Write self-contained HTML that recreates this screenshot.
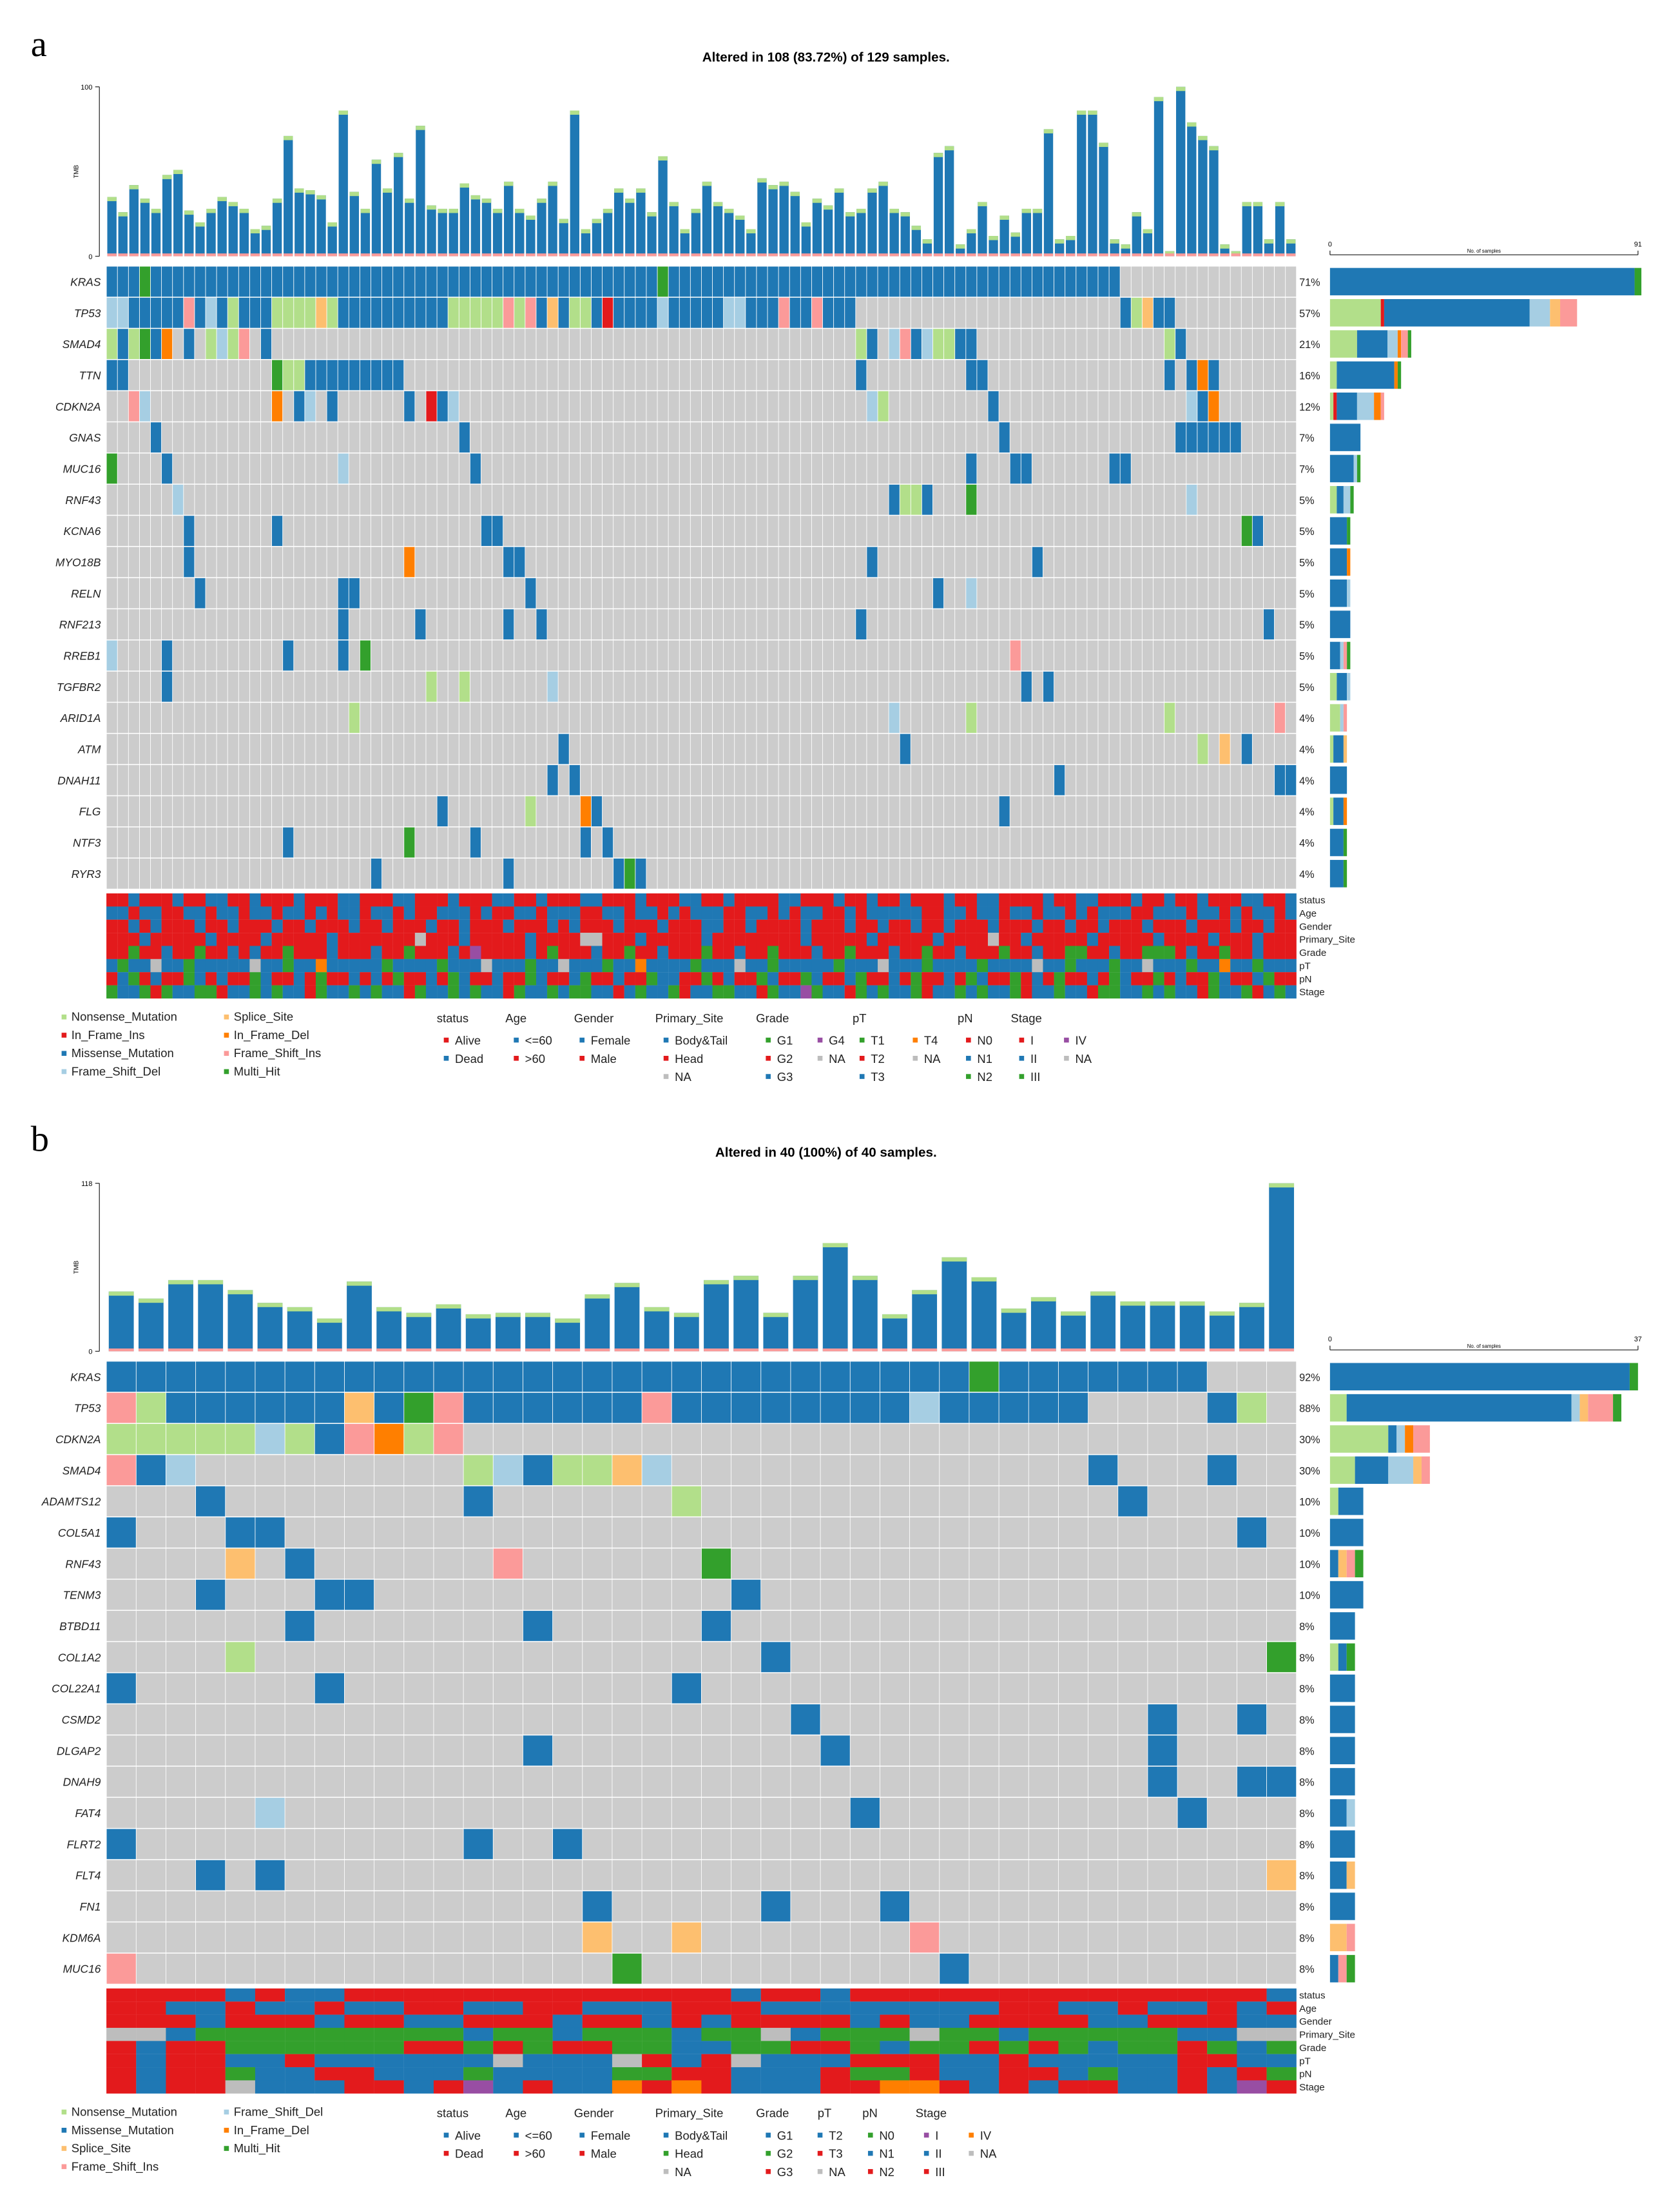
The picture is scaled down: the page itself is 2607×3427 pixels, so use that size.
<!DOCTYPE html>
<html><head><meta charset="utf-8"><style>
html,body{margin:0;padding:0;background:#fff;}
svg{display:block;font-family:"Liberation Sans",sans-serif;}
</style></head><body>
<svg id="fig" width="2607" height="3427" viewBox="0 0 1200 1577.5" preserveAspectRatio="none" xmlns="http://www.w3.org/2000/svg"></svg>
<script>
// ---------- DATA: panel a ----------
const genesA = ["KRAS","TP53","SMAD4","TTN","CDKN2A","GNAS","MUC16","RNF43","KCNA6","MYO18B","RELN","RNF213","RREB1","TGFBR2","ARID1A","ATM","DNAH11","FLG","NTF3","RYR3"];
const pctA = ["71%","57%","21%","16%","12%","7%","7%","5%","5%","5%","5%","5%","5%","5%","4%","4%","4%","4%","4%","4%"];
const mutA = [
"0-91M 3H 50H",
"0-1F 2-6M 7P 8M 9F 10M 11N 12-14M 15-18N 19S 20N 21-30M 31-35N 36P 37N 38P 39M 40S 41M 42-43N 44M 45I 46-49M 50F 51-55M 56-57F 58-60M 61P 62-63M 64P 65-67M 92M 93N 94S 95-96M",
"0N 1M 2N 3H 4M 5D 7M 9N 10F 11N 12P 14M 68N 69M 71F 72P 73M 74F 75-76N 77-78M 96N 97M",
"0-1M 15H 16-17N 18-22M 23-26M 68M 78-79M 96M 98M 99D 100M",
"2P 3F 15D 17M 18F 20M 27M 29I 30M 31F 69F 70N 80M 98F 99M 100D",
"4M 32M 81M 97-102M",
"0H 5M 21F 33M 78M 82-83M 91-92M",
"6F 71M 72-73N 74M 78H 98F",
"7M 15M 34-35M 103H 104M",
"7M 27D 36-37M 69M 84M",
"8M 21-22M 38M 75M 78F",
"21M 28M 36M 39M 68M 105M",
"0F 5M 16M 21M 23H 82P",
"5M 29N 32N 40F 83M 85M",
"22N 71F 78N 96N 106P",
"41M 72M 99N 101S 103M",
"40M 42M 86M 106-107M",
"30M 38N 43D 44M 81M",
"16M 27H 33M 43M 45M",
"24M 36M 46M 47H 48M"
];
const tmbA = [35,26,42,34,28,48,51,27,20,28, 35,32,28,16,18,34,71,40,39,36, 20,86,38,28,57,40,61,34,77,30, 28,28,43,36,34,28,44,28,24,34, 44,22,86,16,22,28,40,34,40,26, 59,32,16,28,44,32,28,24,16,46, 42,44,38,20,34,30,40,26,28,40, 44,28,26,18,10,61,65,7,16,32, 12,24,14,28,28,75,10,12,86,86, 67,10,7,26,16,94,3,100,79,71, 65,7,3,32,32,10,32,10];
const tmbMaxA = 100;
const sampleMaxA = 91;
const annNames = ["status","Age","Gender","Primary_Site","Grade","pT","pN","Stage"];
const annA = [
"rrbrrrbrrbbrrbrrrbrrrbbrrrbbrrrbrrrbbrrbrrrbbrrrbrrrbbrrbrrrrbbrrrbrrbrrbrrrbrrbbrrrrbrrbbrrrbrrbrrbrrrbbrrb",
"bbrbbrrbbrbbrbbrbbrbrbbrbbrbrrbbbrbrrbbrbbbrrbbrbbrbrbbbrrbbrbrbbrrbrbbbbbrrbbrbbrbbrbbrbrbbbrrbbbrbbrbrbbrb",
"rrbrbrrrbrrbrrrbrrbrrrbrrbrrrbrrbrrrbrrrbrbrrrbrrrbrrrbbrrbrrrrbrrrbrrbrrbrrbrrrbrrrbrrbrrbrrrbrrrbrrrbrrbrr",
"rrrbrrrrrbrrrrbrrrrrbrrrrrrrxrrrbrrrrrbrrrrxxrrrbrrrrrbrrrrrrrrbrrrrrbrrrrrbrrrrxrrbrrrrrbrrrrrbrrrrbrrrbrrr",
"rrgrrbrrgrrbrbrrgrrrbrrrbrrgrrrbrprrrrbrgrrrbrrgrrbrrrgrrbrrgrrrbrrgrrrbrrgrrbrrrgrrbrrggrrbrrgggrbrrgrrbrrr",
"bgbbxbbgbbbbbxbbgbbobbbbbgbbbbgbbbxbbbgbbxbbbgbbobbbbgbbbxbbgbbbbbgbbbxbbbgbbbbgbbbbxbbgbbbgbbxbbbgbbobbgbbb",
"rbgrbrrgbrbrrgbrrbrgrrbrbrgrrbrgbrrbrrgbrrbgrrbrrgbbrrgrbrrgbrrgbrrbgrrbrgrrbrgbrrgrbrgrrbrgbrrgrbrrgbrrbgrr",
"gbbgrgbbggrbbgbgbbrgbbgbgbbrgbbgbgbbrgbbgbggbbrbgbbgrbbggbbrgbbpgbbrgbgbbgrbbgbgbbgrbbgbbrggbbgbgbbrgbbgrbgb"
];
// ---------- DATA: panel b ----------
const genesB = ["KRAS","TP53","CDKN2A","SMAD4","ADAMTS12","COL5A1","RNF43","TENM3","BTBD11","COL1A2","COL22A1","CSMD2","DLGAP2","DNAH9","FAT4","FLRT2","FLT4","FN1","KDM6A","MUC16"];
const pctB = ["92%","88%","30%","30%","10%","10%","10%","10%","8%","8%","8%","8%","8%","8%","8%","8%","8%","8%","8%","8%"];
const mutB = [
"0-36M 29H",
"0P 1N 2-7M 8S 9M 10H 11P 12-17M 18P 19-26M 27F 28-32M 37M 38N",
"0-4N 5F 6N 7M 8P 9D 10N 11P",
"0P 1M 2F 12N 13F 14M 15-16N 17S 18F 33M 37M",
"3M 12M 19N 34M",
"0M 4-5M 38M",
"4S 6M 13P 20H",
"3M 7-8M 21M",
"6M 14M 20M",
"4N 22M 39H",
"0M 7M 19M",
"23M 35M 38M",
"14M 24M 35M",
"35M 38-39M",
"5F 25M 36M",
"0M 12M 15M",
"3M 5M 39S",
"16M 22M 26M",
"16S 19S 27P",
"0P 17H 28M"
];
const tmbB = [42,37,50,50,43,34,31,23,49,31, 27,33,26,27,27,23,40,48,31,27, 50,53,27,53,76,53,26,43,66,52, 30,38,28,42,35,35,35,28,34,118];
const tmbMaxB = 118;
const sampleMaxB = 37;
const annB = [
"rrrrbrbbrrrrrrrrrrrrrbrrbrrrrrrrrrrrrrrb",
"rrbbrbbrbbrrbbrrbbbrrrbbbbbbbbrrbbrbbrbr",
"rrrbrrrbrrbbrrrbrrbrbrrrrbrbbrrrrbbrrrbb",
"xxbgggggggggbggbgggbggxbgggxggbgggggbbxxg",
"rbrrggggggrrgrgrrggbbggrrgbggrgrgbggrgbg",
"rbrrbbrbbbbbbxbbbxrbrxbbbrrrbbrbbbbbrrbb",
"rbrrgbbrrbbbgbbbbggrrbbbrggrbbrrbgbbrbrg",
"rbrrxbbbrrbrpbrbbororbbbrroorbrbrrbbrbpr"
];
// ---------- RENDER ----------
const NS="http://www.w3.org/2000/svg";
const svg=document.getElementById('fig');
const MUTC={N:'#b2df8a',M:'#1f78b4',S:'#fdbf6f',I:'#e31a1c',D:'#ff7f00',F:'#a6cee3',P:'#fb9a99',H:'#33a02c'};
const ORDER=['N','I','M','F','S','D','P','H'];
const ANNC={r:'#e31a1c',b:'#1f78b4',g:'#33a02c',x:'#bdbdbd',p:'#984ea3',o:'#ff7f00'};
function el(tag,attrs,parent){const e=document.createElementNS(NS,tag);for(const k in attrs)e.setAttribute(k,attrs[k]);(parent||svg).appendChild(e);return e;}
function txt(s,x,y,size,anchor,extra,parent){const t=el('text',Object.assign({x:x,y:y,'font-size':size,'text-anchor':anchor||'start'},extra||{}),parent);t.textContent=s;return t;}
function parseMut(str,n){const row=new Array(n).fill(null);str.split(' ').forEach(tok=>{if(!tok)return;const ty=tok.slice(-1);const r=tok.slice(0,-1).split('-');const a=+r[0],b=r.length>1?+r[1]:a;for(let i=a;i<=b&&i<n;i++)row[i]=ty;});return row;}

function panel(o){
  const g=el('g',{});
  
  
  const lab=txt(o.letter,22,o.letterY,26,'start',{'font-family':'Liberation Serif, serif'},g);
  
  
  const tt=txt(o.title,590,o.top+30,9.5,'middle',{'font-weight':'bold'},g);
  
  
  const n=o.n, X0=76, X1=926, cw=(X1-X0)/n;
  const tmbY0=o.tmbTop, tmbY1=o.tmbBot;
  const ys=v=>tmbY1-(v/o.tmbMax)*(tmbY1-tmbY0);
  const ax=el('g',{},g);
  
  
  el('line',{x1:71,y1:tmbY0,x2:71,y2:tmbY1,stroke:'#333','stroke-width':0.6},ax);
  el('line',{x1:68,y1:tmbY0,x2:71,y2:tmbY0,stroke:'#333','stroke-width':0.6},ax);
  el('line',{x1:68,y1:tmbY1,x2:71,y2:tmbY1,stroke:'#333','stroke-width':0.6},ax);
  txt(String(o.tmbMax),66,tmbY0+2,5,'end',{},ax);
  txt('0',66,tmbY1+2,5,'end',{},ax);
  txt('TMB',56,(tmbY0+tmbY1)/2,4.5,'middle',{transform:`rotate(-90 56 ${(tmbY0+tmbY1)/2})`},ax);
  o.tmb.forEach((v,i)=>{
    const x=X0+i*cw+cw*0.08,w=cw*0.84,top=ys(v),h=tmbY1-top;
    const b=el('rect',{x:x,y:top,width:w,height:h,fill:'#1f78b4'},g);
    
    
    el('rect',{x:x,y:top,width:w,height:Math.min(h,3),fill:'#b2df8a'},g);
    el('rect',{x:x,y:tmbY1-2,width:w,height:2,fill:'#fb9a99'},g);
  });
  const MY0=o.matTop, rh=(o.matBot-o.matTop)/o.genes.length;
  const xMax=o.sampleMax, BX0=950, BX1=1170;
  const bx=v=>BX0+(v/xMax)*(BX1-BX0);
  const rax=el('g',{},g);
  
  
  el('line',{x1:BX0,y1:MY0-8,x2:BX1,y2:MY0-8,stroke:'#333','stroke-width':0.6},rax);
  el('line',{x1:BX0,y1:MY0-8,x2:BX0,y2:MY0-11,stroke:'#333','stroke-width':0.6},rax);
  el('line',{x1:BX1,y1:MY0-8,x2:BX1,y2:MY0-11,stroke:'#333','stroke-width':0.6},rax);
  txt('0',BX0,MY0-14,5,'middle',{},rax);
  txt(String(xMax),BX1,MY0-14,5,'middle',{},rax);
  txt('No. of samples',(BX0+BX1)/2,MY0-9.5,3.6,'middle',{},rax);
  o.genes.forEach((gname,r)=>{
    const row=parseMut(o.mut[r],n);
    const y=MY0+r*rh;
    el('rect',{x:X0,y:y,width:X1-X0,height:rh,fill:'#fff'},g);
    row.forEach((t,i)=>{
      const c=el('rect',{x:X0+i*cw+0.2,y:y+0.35,width:cw-0.4,height:rh-0.7,fill:t?MUTC[t]:'#cccccc'},g);
      
      
    });
    const gl=txt(gname,72,y+rh/2+3,8,'end',{'font-style':'italic',fill:'#222'},g);
    
    
    const pl=txt(o.pct[r],928,y+rh/2+3,7.5,'start',{fill:'#222'},g);
    
    
    let acc=0;
    ORDER.forEach(t=>{const c=row.filter(v=>v===t).length;if(!c)return;
      const rb=el('rect',{x:bx(acc),y:y+rh*0.06,width:bx(acc+c)-bx(acc),height:rh*0.88,fill:MUTC[t]},g);
      
      
      acc+=c;});
  });
  const AY0=o.annTop, arh=(o.annBot-o.annTop)/8;
  o.ann.forEach((s,r)=>{
    for(let i=0;i<n;i++){
      const ch=s[i]||'r';
      const a=el('rect',{x:X0+i*cw,y:AY0+r*arh,width:cw+0.05,height:arh+0.05,fill:ANNC[ch]},g);
      
      
    }
    const al=txt(annNames[r],928,AY0+r*arh+arh/2+2.5,7,'start',{fill:'#222'},g);
    
    
  });
  const lg=el('g',{},g);
  
  
  o.mutLegend.forEach(([label,t,x,y])=>{
    el('rect',{x:x,y:y-4.5,width:3.5,height:3.5,fill:MUTC[t]},lg);
    txt(label,x+7,y,8.5,'start',{fill:'#222'},lg);
  });
  o.annHeaders.forEach(([label,x])=>txt(label,x,o.legTop+4,8.5,'start',{fill:'#222'},lg));
  o.annItems.forEach(([label,c,x,row])=>{
    const y=o.legTop+20+row*13;
    el('rect',{x:x,y:y-5,width:3.5,height:3.5,fill:ANNC[c]},lg);
    txt(label,x+8,y,8.5,'start',{fill:'#222'},lg);
  });
}

panel({id:'a',letter:'a',letterY:40,top:14,title:'Altered in 108 (83.72%) of 129 samples.',n:108,tmb:tmbA,tmbMax:tmbMaxA,sampleMax:sampleMaxA,
  tmbTop:62,tmbBot:183,matTop:190,matBot:635,annTop:638,annBot:713,legTop:726,
  genes:genesA,pct:pctA,mut:mutA,ann:annA,
  mutLegend:[['Nonsense_Mutation','N',44,729],['In_Frame_Ins','I',44,742],['Missense_Mutation','M',44,755],['Frame_Shift_Del','F',44,768],
             ['Splice_Site','S',160,729],['In_Frame_Del','D',160,742],['Frame_Shift_Ins','P',160,755],['Multi_Hit','H',160,768]],
  annHeaders:[['status',312],['Age',361],['Gender',410],['Primary_Site',468],['Grade',540],['pT',609],['pN',684],['Stage',722]],
  annItems:[['Alive','r',317,0],['Dead','b',317,1],['<=60','b',367,0],['>60','r',367,1],['Female','b',414,0],['Male','r',414,1],
    ['Body&Tail','b',474,0],['Head','r',474,1],['NA','x',474,2],['G1','g',547,0],['G2','r',547,1],['G3','b',547,2],['G4','p',584,0],['NA','x',584,1],
    ['T1','g',614,0],['T2','r',614,1],['T3','b',614,2],['T4','o',652,0],['NA','x',652,1],['N0','r',690,0],['N1','b',690,1],['N2','g',690,2],
    ['I','r',728,0],['II','b',728,1],['III','g',728,2],['IV','p',760,0],['NA','x',760,1]]
});
panel({id:'b',letter:'b',letterY:822,top:796,title:'Altered in 40 (100%) of 40 samples.',n:40,tmb:tmbB,tmbMax:tmbMaxB,sampleMax:sampleMaxB,
  tmbTop:845,tmbBot:965,matTop:972,matBot:1417,annTop:1420,annBot:1495,legTop:1508,
  genes:genesB,pct:pctB,mut:mutB,ann:annB,
  mutLegend:[['Nonsense_Mutation','N',44,1511],['Missense_Mutation','M',44,1524],['Splice_Site','S',44,1537],['Frame_Shift_Ins','P',44,1550],
             ['Frame_Shift_Del','F',160,1511],['In_Frame_Del','D',160,1524],['Multi_Hit','H',160,1537]],
  annHeaders:[['status',312],['Age',361],['Gender',410],['Primary_Site',468],['Grade',540],['pT',584],['pN',616],['Stage',654]],
  annItems:[['Alive','b',317,0],['Dead','r',317,1],['<=60','b',367,0],['>60','r',367,1],['Female','b',414,0],['Male','r',414,1],
    ['Body&Tail','b',474,0],['Head','g',474,1],['NA','x',474,2],['G1','b',547,0],['G2','g',547,1],['G3','r',547,2],
    ['T2','b',584,0],['T3','r',584,1],['NA','x',584,2],['N0','g',620,0],['N1','b',620,1],['N2','r',620,2],
    ['I','p',660,0],['II','b',660,1],['III','r',660,2],['IV','o',692,0],['NA','x',692,1]]
});
</script>
</body></html>
